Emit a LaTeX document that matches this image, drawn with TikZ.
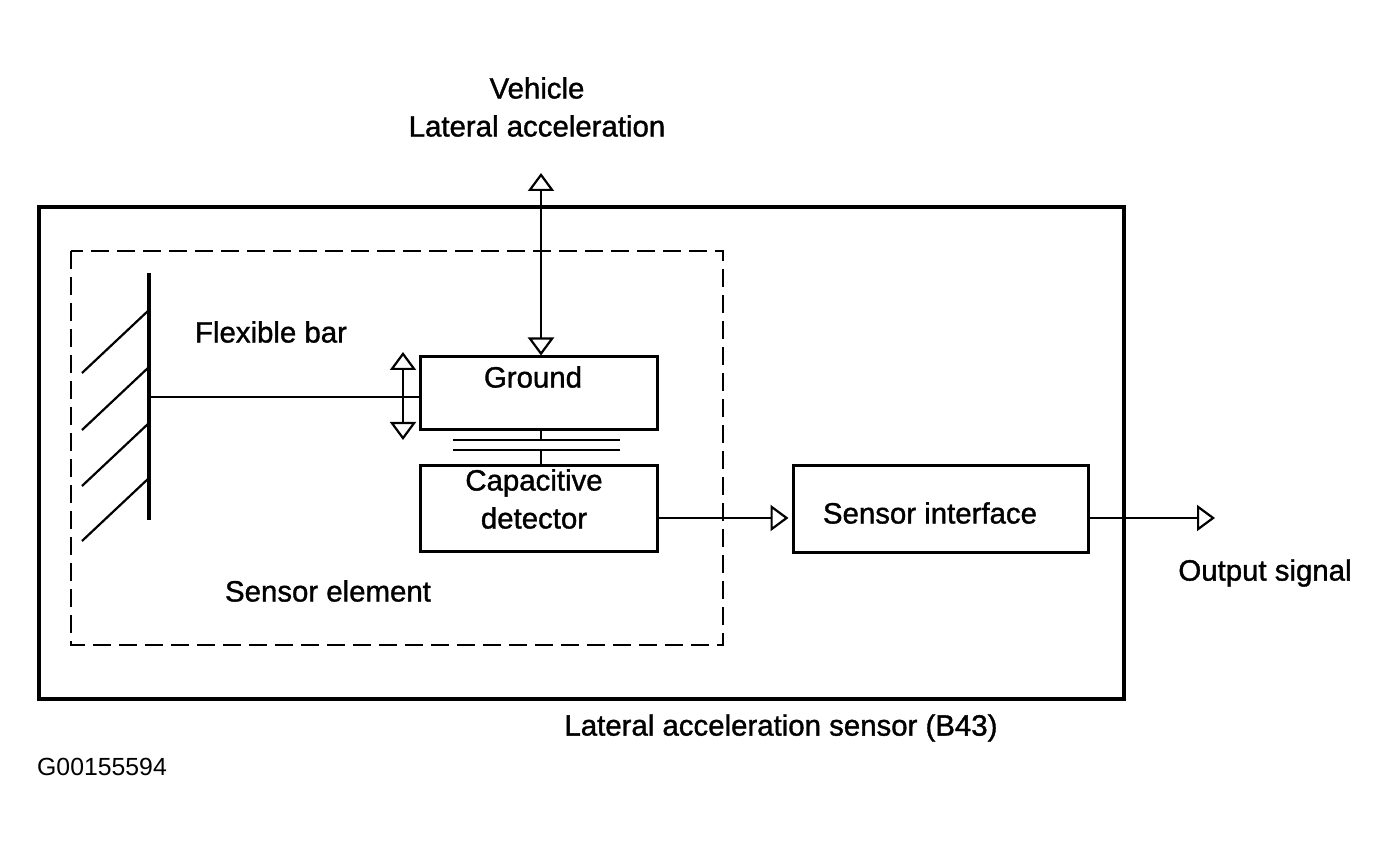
\documentclass[tikz,border=0pt]{standalone}
\usepackage{fontspec}
\setmainfont{Liberation Sans}
\newfontfamily\scanfont[FakeBold=1.2]{Liberation Sans}
\usetikzlibrary{arrows.meta}
\begin{document}
\begin{tikzpicture}[x=0.5pt,y=-0.5pt,
  lbl/.style={inner sep=0pt,font=\scanfont\fontsize{14.7}{19}\selectfont,align=center},
  blk/.style={draw,line width=1.5pt,inner sep=0pt},
  conn/.style={line width=1.1pt},
  opentip/.style={-{Triangle[open,length=9pt,width=13pt,line width=1.1pt]}},
  bothtip/.style={{Triangle[open,length=9pt,width=13pt,line width=1.1pt]}-{Triangle[open,length=9pt,width=13pt,line width=1.1pt]}}
]
\useasboundingbox (0,0) rectangle (1388,850);
% outer box
\draw[line width=2.2pt] (39,207) rectangle (1124,699);
% dashed sensor element
\draw[line width=1.1pt,dash pattern=on 9pt off 4pt] (71,251) rectangle (723,645);
% wall
\coordinate (wtop) at (149,273);
\coordinate (wbot) at (149,520);
\draw[line width=1.7pt] (wtop) -- (wbot);
\foreach \y in {310,367,423,478}{
  \draw[line width=1.1pt] (149,\y) -- (82,\y+63);
}
% boxes
\node[blk,minimum width=118.5pt,minimum height=36.5pt] (gnd) at (538.5,393.5) {};
\node[blk,minimum width=118.5pt,minimum height=43pt] (cap) at (538.5,508) {};
\node[blk,minimum width=147.5pt,minimum height=43.5pt] (si) at (940.5,508.5) {};
% texts
\node[lbl] (tgnd) at (533,377) {Ground};
\node[lbl] (tcap) at (534,499) {Capacitive\\detector};
\node[lbl] (tsi) at (930,513) {Sensor interface};
\node[lbl] (tveh) at (537,107) {Vehicle\\Lateral acceleration};
\node[lbl] (tflex) at (271,332) {Flexible bar};
\node[lbl] (telem) at (328,591) {Sensor element};
\node[lbl] (tout) at (1265,573) {Output signal};
\node[lbl] (tsens) at (781,728) {Lateral acceleration sensor (B43)};
\node[inner sep=0pt,font=\fontsize{12.4}{15}\selectfont] (tid) at (102,767) {G00155594};
% flexible bar
\coordinate (barl) at (149,397);
\draw[line width=1.4pt] (barl) -- (barl -| gnd.west);
% flex arrow
\coordinate (ft) at (403,352);
\coordinate (fb) at (403,440);
\draw[conn,bothtip] (ft) -- (fb);
% vehicle arrow
\coordinate (vtop) at (541,173);
\draw[conn,bothtip] (vtop) -- (vtop |- gnd.north);
% capacitor
\coordinate (p1) at (541,440);
\coordinate (p2) at (541,450);
\draw[conn] (p1 |- gnd.south) -- (p1);
\draw[conn] (453,440) -- (620,440);
\draw[conn] (453,450) -- (620,450);
\draw[conn] (p2) -- (p2 |- cap.north);
% cap to sensor interface
\coordinate (sig) at (0,518);
\draw[line width=1.4pt,opentip] (cap.east |- sig) -- ([xshift=-1.5pt]si.west |- sig);
% output
\coordinate (outp) at (1215,518);
\draw[conn,opentip] (si.east |- outp) -- (outp);
\end{tikzpicture}
\end{document}
